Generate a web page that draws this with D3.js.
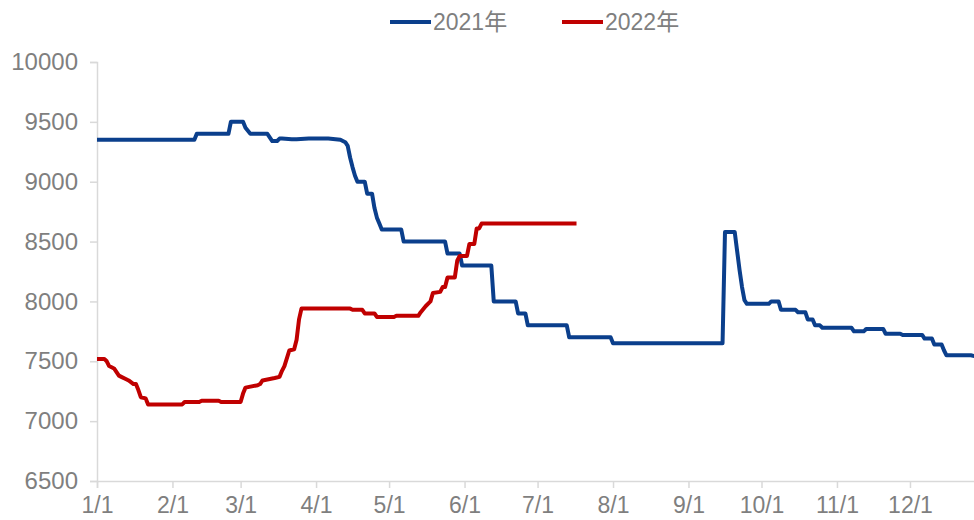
<!DOCTYPE html>
<html>
<head>
<meta charset="utf-8">
<script src="https://cdn.jsdelivr.net/npm/d3@7"></script>
<style>
  body { margin: 0; background: #fff; }
  svg { display: block; }
  .tick text { font-family: "Liberation Sans", Arial, sans-serif; fill: #7f7f7f; }
</style>
</head>
<body>
<div id="wrapper"></div>
<script>
// dates are month-day, both years drawn on one Jan-Dec axis
const dates2021 = ["01-01","02-10","02-11","02-24","02-25","03-02","03-03","03-05","03-12","03-14","03-16","03-17","03-18","03-22","03-24","03-29","04-06","04-09","04-11","04-13","04-14","04-15","04-16","04-17","04-18","04-21","04-22","04-24","04-25","04-26","04-27","04-28","05-06","05-07","05-24","05-25","05-30","05-31","06-12","06-13","06-22","06-23","06-26","06-27","07-13","07-14","07-31","08-01","09-15","09-16","09-20","09-21","09-22","09-23","09-24","09-25","10-04","10-05","10-08","10-09","10-15","10-16","10-19","10-20","10-22","10-23","10-25","10-26","11-07","11-08","11-12","11-13","11-20","11-21","11-27","11-28","12-06","12-07","12-10","12-11","12-14","12-15","12-16","12-26","12-31"]
const values2021 = [9350,9350,9400,9400,9500,9500,9450,9400,9400,9340,9340,9360,9360,9355,9355,9360,9360,9355,9350,9330,9300,9200,9120,9050,9000,9000,8900,8900,8780,8700,8650,8600,8600,8500,8500,8400,8400,8300,8300,8000,8000,7900,7900,7800,7800,7700,7700,7650,7650,8580,8580,8420,8260,8120,8010,7980,7980,8000,8000,7930,7930,7910,7910,7850,7850,7800,7800,7780,7780,7750,7750,7770,7770,7730,7730,7720,7720,7690,7690,7640,7640,7590,7550,7550,7530]

const dates2022 = ["01-01","01-04","01-05","01-06","01-07","01-08","01-10","01-11","01-13","01-14","01-16","01-17","01-18","01-19","01-21","01-22","02-05","02-06","02-12","02-13","02-20","02-21","03-01","03-02","03-03","03-08","03-09","03-10","03-15","03-17","03-18","03-19","03-21","03-23","03-24","03-25","03-26","04-15","04-16","04-20","04-21","04-25","04-26","05-03","05-04","05-13","05-14","05-16","05-18","05-19","05-22","05-23","05-24","05-25","05-28","05-29","05-30","06-02","06-03","06-05","06-06","06-07","06-08","07-17"]
const values2022 = [7520,7520,7500,7460,7450,7440,7380,7370,7350,7340,7310,7310,7260,7200,7190,7140,7140,7160,7160,7170,7170,7160,7160,7230,7280,7300,7310,7340,7360,7370,7420,7460,7590,7600,7680,7850,7940,7940,7930,7930,7900,7900,7870,7870,7880,7880,7910,7960,8000,8070,8080,8120,8120,8200,8200,8340,8380,8380,8480,8480,8610,8610,8650,8650]

const yTicks = [6500,7000,7500,8000,8500,9000,9500,10000]
const monthTicks = ["01-01","02-01","03-01","04-01","05-01","06-01","07-01","08-01","09-01","10-01","11-01","12-01"]

const seriesNames = ["2021年","2022年"]
const seriesColors = ["#0b3f8c","#c00000"]

const parseDay = d3.timeParse("%Y-%m-%d")
const toDate = md => parseDay("2021-" + md)

const series = [
  dates2021.map((d, i) => ({date: toDate(d), value: values2021[i]})),
  dates2022.map((d, i) => ({date: toDate(d), value: values2022[i]})),
]

const width = 974
const height = 520
const margin = {top: 62, right: -9, bottom: 39, left: 97}
const boundedWidth = width - margin.left - margin.right
const boundedHeight = height - margin.top - margin.bottom

const svg = d3.select("#wrapper")
  .append("svg")
    .attr("width", width)
    .attr("height", height)

const bounds = svg.append("g")
    .attr("transform", `translate(${margin.left},${margin.top})`)

const xScale = d3.scaleTime()
  .domain([toDate("01-01"), toDate("12-31")])
  .range([0, boundedWidth])

const yScale = d3.scaleLinear()
  .domain([6500, 10000])
  .range([boundedHeight, 0])

// axes
const yAxis = bounds.append("g")
  .call(d3.axisLeft(yScale).tickValues(yTicks).tickSize(7).tickPadding(12).tickFormat(d3.format("d")))
yAxis.select(".domain").attr("stroke", "#d9d9d9").attr("stroke-width", 1.5)
yAxis.selectAll(".tick line").attr("stroke", "#d9d9d9").attr("stroke-width", 1.5)
yAxis.selectAll(".tick text").style("font-size", "24px")

const xAxis = bounds.append("g")
  .attr("transform", `translate(0,${boundedHeight})`)
  .call(d3.axisBottom(xScale).tickValues(monthTicks.map(toDate)).tickSize(7).tickPadding(9)
    .tickFormat(d => (d.getMonth() + 1) + "/" + d.getDate()))
xAxis.select(".domain").attr("stroke", "#d9d9d9").attr("stroke-width", 1.5)
xAxis.selectAll(".tick line").attr("stroke", "#d9d9d9").attr("stroke-width", 1.5)
xAxis.selectAll(".tick text").style("font-size", "23px")

// lines
const lineGenerator = d3.line()
  .x(d => xScale(d.date))
  .y(d => yScale(d.value))

series.forEach((s, i) => {
  bounds.append("path")
    .datum(s)
    .attr("fill", "none")
    .attr("stroke", seriesColors[i])
    .attr("stroke-width", 4)
    .attr("stroke-linejoin", "round")
    .attr("d", lineGenerator)
})

// legend
const legend = svg.append("g")
  .attr("transform", "translate(390,22)")
const legendItems = legend.selectAll("g")
  .data(seriesNames)
  .join("g")
    .attr("transform", (d, i) => `translate(${i * 172},0)`)
legendItems.append("line")
  .attr("x1", 0).attr("x2", 41)
  .attr("stroke", (d, i) => seriesColors[i])
  .attr("stroke-width", 4)
legendItems.append("text")
  .attr("x", 43)
  .attr("dy", "0.35em")
  .style("font-family", "'Liberation Sans', 'Noto Sans CJK SC', sans-serif")
  .style("font-size", "23px")
  .attr("fill", "#7f7f7f")
  .text(d => d)
</script>
</body>
</html>
